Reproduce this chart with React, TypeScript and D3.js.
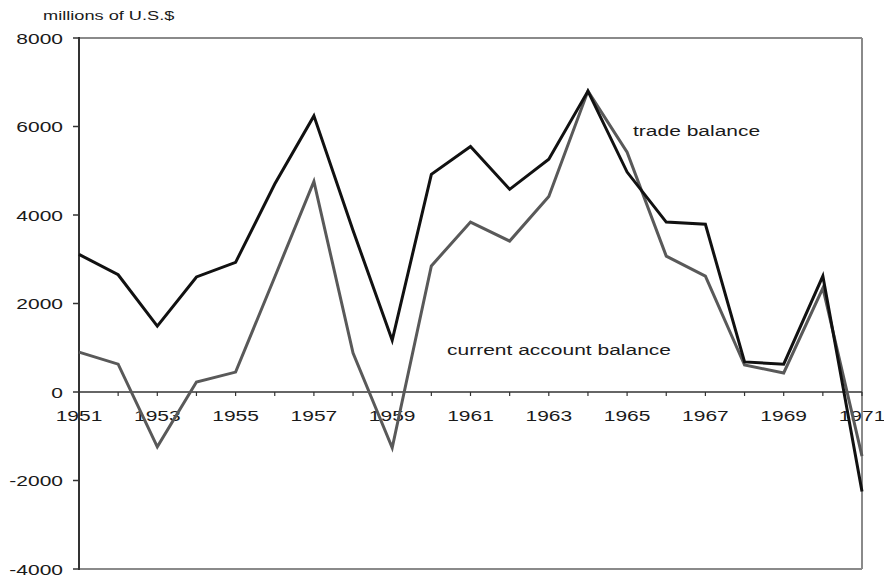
import React from "react";
import * as d3 from "d3";

const years: number[] = [1951, 1952, 1953, 1954, 1955, 1956, 1957, 1958, 1959, 1960, 1961, 1962, 1963, 1964, 1965, 1966, 1967, 1968, 1969, 1970, 1971];
const tradeBalance: number[] = [3110, 2650, 1490, 2600, 2930, 4700, 6240, 3650, 1170, 4920, 5550, 4580, 5260, 6800, 4970, 3840, 3790, 680, 630, 2620, -2250];
const currentAccount: number[] = [900, 630, -1240, 225, 450, 2600, 4760, 880, -1260, 2850, 3840, 3410, 4420, 6800, 5420, 3070, 2620, 610, 430, 2350, -1450];
const yTicks: number[] = [8000, 6000, 4000, 2000, 0, -2000, -4000];
const xLabelYears: number[] = [1951, 1953, 1955, 1957, 1959, 1961, 1963, 1965, 1967, 1969, 1971];
const unitLabel = "millions of U.S.$";
const tradeLabel = "trade balance";
const currentLabel = "current account balance";

const W = 884;
const H = 581;
const left = 79;
const right = 862;
const top = 38;
const bottom = 569;
const SX = 1.4;
const FONT = "'Liberation Sans', Arial, Helvetica, sans-serif";

function StretchText(props: { x: number; y: number; size: number; anchor: "start" | "middle" | "end"; children: React.ReactNode }) {
  return (
    <g transform={`translate(${props.x},${props.y}) scale(${SX},1)`}>
      <text x={0} y={0} fontSize={props.size} textAnchor={props.anchor} fontFamily={FONT} fill="#1a1a1a">
        {props.children}
      </text>
    </g>
  );
}

export default function App() {
  const x = d3.scaleLinear().domain([1951, 1971]).range([left, right]);
  const y = d3.scaleLinear().domain([-4000, 8000]).range([bottom, top]);
  const line = d3
    .line<number>()
    .x((_, i) => x(years[i]))
    .y((d) => y(d));
  const y0 = y(0);

  return (
    <svg width={W} height={H} style={{ position: "absolute", left: 0, top: 0, background: "#fff" }}>
      {/* plot frame */}
      <line x1={left} x2={right} y1={top} y2={top} stroke="#8a8a8a" strokeWidth={2} />
      <line x1={right} x2={right} y1={top} y2={bottom} stroke="#8a8a8a" strokeWidth={2} />
      <line x1={left} x2={right} y1={bottom} y2={bottom} stroke="#8a8a8a" strokeWidth={2} />
      {/* y axis */}
      <line x1={left} x2={left} y1={top - 1} y2={bottom + 1} stroke="#333" strokeWidth={2} />
      {yTicks.map((t) => (
        <g key={t}>
          <line x1={left - 6} x2={left} y1={y(t)} y2={y(t)} stroke="#333" strokeWidth={1.5} />
          <StretchText x={63} y={y(t) + 5.5} size={15} anchor="end">
            {t}
          </StretchText>
        </g>
      ))}
      {/* zero line with year ticks */}
      <line x1={left} x2={right} y1={y0} y2={y0} stroke="#333" strokeWidth={1.5} />
      {years.map((yr) => (
        <line key={yr} x1={x(yr)} x2={x(yr)} y1={y0} y2={y0 + 4} stroke="#333" strokeWidth={1.2} />
      ))}
      {xLabelYears.map((yr) => (
        <StretchText key={yr} x={x(yr)} y={y0 + 29} size={15} anchor="middle">
          {yr}
        </StretchText>
      ))}
      {/* series */}
      <path d={line(currentAccount) || ""} fill="none" stroke="#595959" strokeWidth={3} strokeLinejoin="miter" />
      <path d={line(tradeBalance) || ""} fill="none" stroke="#111" strokeWidth={3} strokeLinejoin="miter" />
      {/* annotations */}
      <StretchText x={43} y={20} size={13} anchor="start">
        {unitLabel}
      </StretchText>
      <StretchText x={633} y={136} size={15} anchor="start">
        {tradeLabel}
      </StretchText>
      <StretchText x={447} y={355} size={15} anchor="start">
        {currentLabel}
      </StretchText>
    </svg>
  );
}
